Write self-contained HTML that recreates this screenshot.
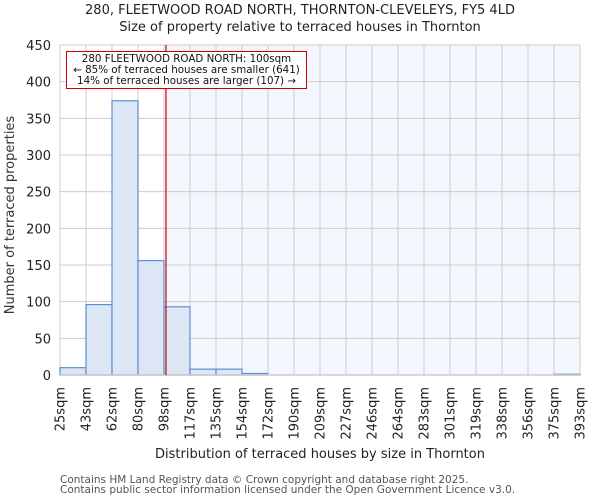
<!DOCTYPE html>
<html><head><meta charset="utf-8"><style>
body{margin:0;background:#fff;font-family:"DejaVu Sans","Liberation Sans",sans-serif;}
</style></head><body>
<svg width="600" height="500" xmlns="http://www.w3.org/2000/svg" font-family="DejaVu Sans, Liberation Sans, sans-serif">
<g id="g"></g>
</svg>
<script>
const edgeLabels=["25sqm","43sqm","62sqm","80sqm","98sqm","117sqm","135sqm","154sqm","172sqm","190sqm","209sqm","227sqm","246sqm","264sqm","283sqm","301sqm","319sqm","338sqm","356sqm","375sqm","393sqm"];
const counts=[10,96,374,156,93,8,8,2,0,0,0,0,0,0,0,0,0,0,0,1];
const yTicks=[0,50,100,150,200,250,300,350,400,450];
const propertySize=100;
const binStart=25, binEnd=393;
const L=60,R=580,T=45,B=375;
const nb=counts.length;
const xb=i=>L+(R-L)*i/nb;
const xv=v=>L+(R-L)*(v-binStart)/(binEnd-binStart);
const y=v=>B-(B-T)*v/450;
const g=document.getElementById('g');
const NS='http://www.w3.org/2000/svg';
function mk(t,a,txt){const e=document.createElementNS(NS,t);for(const k in a)e.setAttribute(k,a[k]);if(txt!=null)e.textContent=txt;g.appendChild(e);return e;}
const rx=xv(propertySize);
let e=mk('rect',{x:rx,y:T,width:R-rx,height:B-T,fill:'#f3f6fd'});


for(const t of yTicks){e=mk('line',{x1:L,x2:R,y1:y(t),y2:y(t),stroke:'#cccccc','stroke-width':1});


e=mk('text',{x:L-9,y:y(t)+5,'text-anchor':'end','font-size':13,fill:'#222'},t);

}
for(let i=0;i<=nb;i++){e=mk('line',{x1:xb(i),x2:xb(i),y1:T,y2:B,stroke:'#cccccc','stroke-width':1});


const lx=xb(i)+4.5;
e=mk('text',{x:0,y:0,transform:`translate(${lx},${B+12}) rotate(-90)`,'text-anchor':'end','font-size':13,fill:'#222'},edgeLabels[i]);

}
counts.forEach((c,i)=>{if(c<=0)return;e=mk('rect',{x:xb(i),y:y(c),width:xb(i+1)-xb(i),height:B-y(c),fill:'#dce6f4',stroke:'#5b8fd6','stroke-width':1.2});

});
e=mk('line',{x1:L,x2:R,y1:B,y2:B,stroke:'#ccc','stroke-width':1.5});


e=mk('line',{x1:rx,x2:rx,y1:T,y2:B,stroke:'#cc0000','stroke-width':1.2});


e=mk('rect',{x:66.5,y:51.5,width:240,height:37,fill:'#fff',stroke:'#cc0000','stroke-width':1});


[["280 FLEETWOOD ROAD NORTH: 100sqm",62],["← 85% of terraced houses are smaller (641)",73],["14% of terraced houses are larger (107) →",84]].forEach(([t,yy])=>{e=mk('text',{x:186.5,y:yy,'text-anchor':'middle','font-size':10.3,fill:'#111'},t);

});
e=mk('text',{x:300,y:14,'text-anchor':'middle','font-size':13,fill:'#222'},"280, FLEETWOOD ROAD NORTH, THORNTON-CLEVELEYS, FY5 4LD");


e=mk('text',{x:300,y:31,'text-anchor':'middle','font-size':13,fill:'#222'},"Size of property relative to terraced houses in Thornton");


e=mk('text',{x:0,y:0,transform:'translate(14,215) rotate(-90)','text-anchor':'middle','font-size':13,fill:'#333'},"Number of terraced properties");


e=mk('text',{x:320,y:458,'text-anchor':'middle','font-size':13,fill:'#222'},"Distribution of terraced houses by size in Thornton");


e=mk('text',{x:60,y:483,'font-size':10.5,fill:'#555'},"Contains HM Land Registry data © Crown copyright and database right 2025.");


e=mk('text',{x:60,y:493,'font-size':10.5,fill:'#555'},"Contains public sector information licensed under the Open Government Licence v3.0.");


</script>
</body></html>
